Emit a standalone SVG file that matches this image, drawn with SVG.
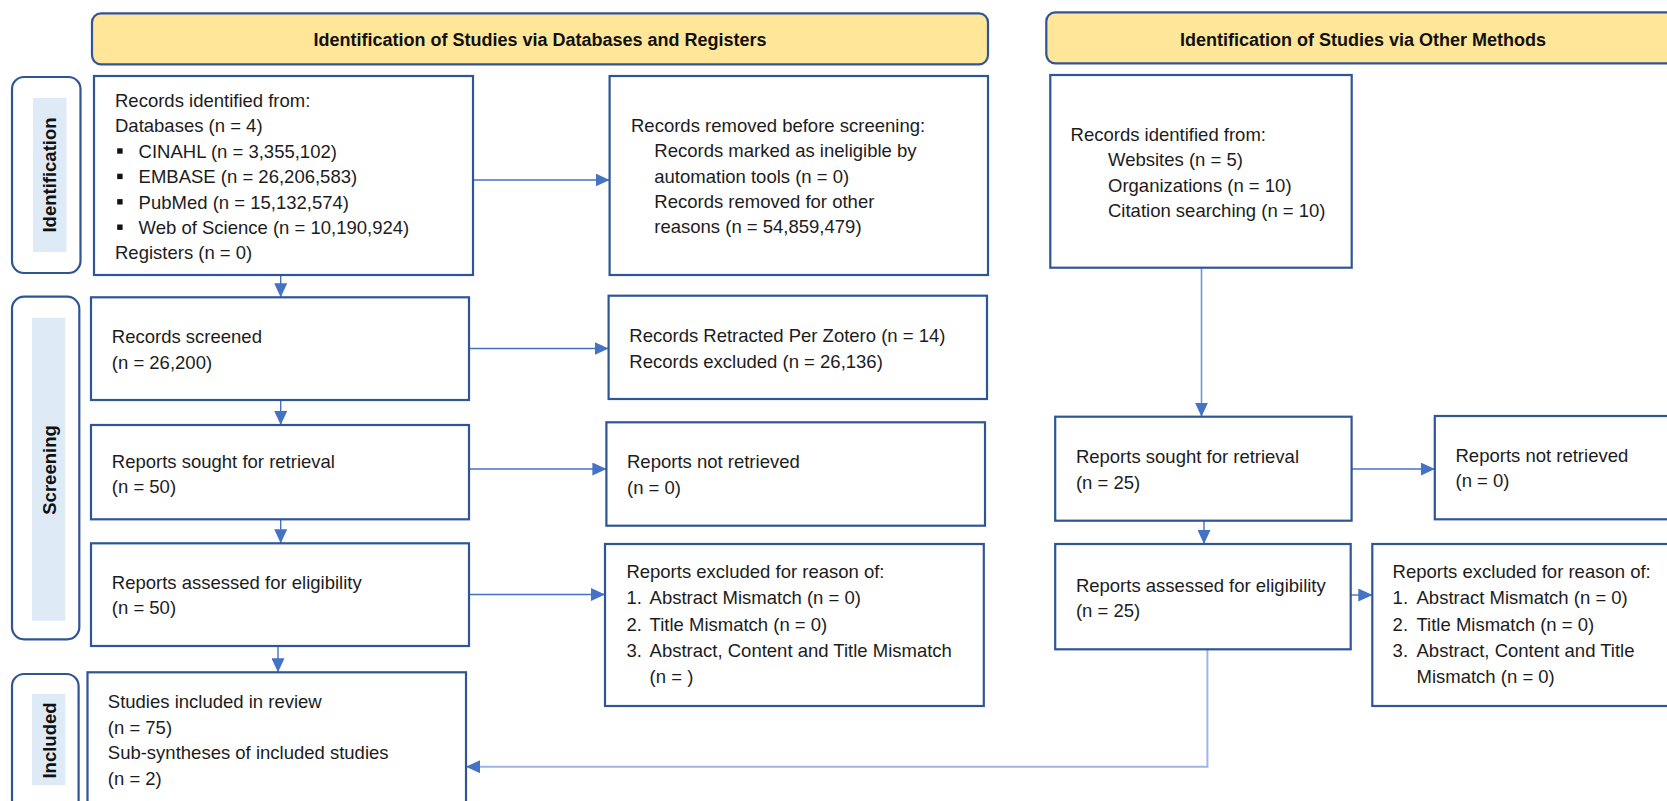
<svg xmlns="http://www.w3.org/2000/svg" width="1667" height="801" viewBox="0 0 1667 801">
<style>
.bx{fill:#fff;stroke:#2F5597;stroke-width:2.2}
.hd{fill:#FFE699;stroke:#2F5597;stroke-width:2.2}
.sd{fill:#fff;stroke:#2F5597;stroke-width:2.2}
.sdi{fill:#DEEBF7;stroke:none}
.t{font-family:"Liberation Sans",Arial,sans-serif;font-size:18.5px;fill:#1c1c1c}
.hb{font-family:"Liberation Sans",Arial,sans-serif;font-size:18px;font-weight:bold;fill:#111}
.sl{font-family:"Liberation Sans",Arial,sans-serif;font-size:18.5px;font-weight:bold;fill:#111}
.c{fill:none;stroke:#4472C4;stroke-width:1.4}
.cl{fill:none;stroke:#9DB6E4;stroke-width:2}
.cm{fill:none;stroke:#6F93D6;stroke-width:1.6}
</style>
<defs>
<marker id="ah" markerUnits="userSpaceOnUse" markerWidth="14" markerHeight="13" refX="14" refY="6.5" orient="auto">
<path d="M0,0 L14,6.5 L0,13 z" fill="#4472C4"/>
</marker>
</defs>

<g id="header-db">
<rect class="hd" x="92" y="13.3" width="896" height="51" rx="9"/>
<text class="hb" x="540" y="46" text-anchor="middle">Identification of Studies via Databases and Registers</text>
</g>
<g id="header-other">
<rect class="hd" x="1046.3" y="12.3" width="640" height="51" rx="9"/>
<text class="hb" x="1363" y="45.5" text-anchor="middle">Identification of Studies via Other Methods</text>
</g>

<g id="label-identification">
<rect class="sd" x="12" y="77" width="68.5" height="196" rx="12"/>
<rect class="sdi" x="33" y="98" width="33.5" height="154"/>
<text class="sl" transform="translate(55.5,175) rotate(-90)" text-anchor="middle">Identification</text>
</g>
<g id="label-screening">
<rect class="sd" x="12" y="296.7" width="67.3" height="342.6" rx="12"/>
<rect class="sdi" x="32" y="317.7" width="33.4" height="303"/>
<text class="sl" transform="translate(55.5,470) rotate(-90)" text-anchor="middle">Screening</text>
</g>
<g id="label-included">
<rect class="sd" x="12" y="674" width="66.6" height="150" rx="12"/>
<rect class="sdi" x="32" y="694" width="33.4" height="91"/>
<text class="sl" transform="translate(55.5,740.5) rotate(-90)" text-anchor="middle">Included</text>
</g>

<g id="connectors">
<line class="c" x1="473" y1="180" x2="609.6" y2="180" marker-end="url(#ah)"/>
<line class="c" x1="280.7" y1="275" x2="280.7" y2="297.3" marker-end="url(#ah)"/>
<line class="c" x1="469" y1="348.5" x2="608.6" y2="348.5" marker-end="url(#ah)"/>
<line class="c" x1="280.7" y1="400" x2="280.7" y2="425" marker-end="url(#ah)"/>
<line class="c" x1="469" y1="469" x2="606.4" y2="469" marker-end="url(#ah)"/>
<line class="c" x1="280.7" y1="519.3" x2="280.7" y2="543.3" marker-end="url(#ah)"/>
<line class="c" x1="469" y1="594.5" x2="605" y2="594.5" marker-end="url(#ah)"/>
<line class="c" x1="278" y1="646" x2="278" y2="672.3" marker-end="url(#ah)"/>
<line class="cm" x1="1201.5" y1="267.7" x2="1201.5" y2="416.7" marker-end="url(#ah)"/>
<line class="c" x1="1351.6" y1="469" x2="1434.8" y2="469" marker-end="url(#ah)"/>
<line class="c" x1="1204" y1="520.7" x2="1204" y2="544" marker-end="url(#ah)"/>
<line class="c" x1="1350.7" y1="595" x2="1372.3" y2="595" marker-end="url(#ah)"/>
<path class="cl" d="M1207.4,649.3 V766.7 H466" marker-end="url(#ah)"/>
</g>

<g id="box-records-identified">
<rect class="bx" x="94" y="76" width="379" height="199"/>
<text class="t" x="115" y="107">Records identified from:</text>
<text class="t" x="115" y="132.4">Databases (n = 4)</text>
<rect x="117.2" y="148.3" width="5.4" height="5.4" fill="#111"/>
<text class="t" x="138.6" y="157.8">CINAHL (n = 3,355,102)</text>
<rect x="117.2" y="173.7" width="5.4" height="5.4" fill="#111"/>
<text class="t" x="138.6" y="183.2">EMBASE (n = 26,206,583)</text>
<rect x="117.2" y="199.1" width="5.4" height="5.4" fill="#111"/>
<text class="t" x="138.6" y="208.6">PubMed (n = 15,132,574)</text>
<rect x="117.2" y="224.5" width="5.4" height="5.4" fill="#111"/>
<text class="t" x="138.6" y="234">Web of Science (n = 10,190,924)</text>
<text class="t" x="115" y="259.4">Registers (n = 0)</text>
</g>

<g id="box-records-removed">
<rect class="bx" x="609.6" y="76" width="378.4" height="199"/>
<text class="t" x="631" y="131.7">Records removed before screening:</text>
<text class="t" x="654.3" y="157.3">Records marked as ineligible by</text>
<text class="t" x="654.3" y="182.5">automation tools (n = 0)</text>
<text class="t" x="654.3" y="207.7">Records removed for other</text>
<text class="t" x="654.3" y="233.1">reasons (n = 54,859,479)</text>
</g>

<g id="box-other-records">
<rect class="bx" x="1050.3" y="75" width="301.4" height="192.7"/>
<text class="t" x="1070.6" y="141.2">Records identified from:</text>
<text class="t" x="1108" y="166.4">Websites (n = 5)</text>
<text class="t" x="1108" y="191.7">Organizations (n = 10)</text>
<text class="t" x="1108" y="216.9">Citation searching (n = 10)</text>
</g>

<g id="box-screened">
<rect class="bx" x="91" y="297.3" width="378" height="102.7"/>
<text class="t" x="111.8" y="343.3">Records screened</text>
<text class="t" x="111.8" y="368.5">(n = 26,200)</text>
</g>

<g id="box-excluded-screen">
<rect class="bx" x="608.6" y="295.7" width="378.4" height="103.3"/>
<text class="t" x="629.3" y="342.3">Records Retracted Per Zotero (n = 14)</text>
<text class="t" x="629.3" y="367.5">Records excluded (n = 26,136)</text>
</g>

<g id="box-sought">
<rect class="bx" x="91" y="425" width="378" height="94.3"/>
<text class="t" x="111.8" y="467.7">Reports sought for retrieval</text>
<text class="t" x="111.8" y="492.7">(n = 50)</text>
</g>

<g id="box-not-retrieved">
<rect class="bx" x="606.4" y="422.3" width="378.6" height="103.4"/>
<text class="t" x="627" y="468.3">Reports not retrieved</text>
<text class="t" x="627" y="493.5">(n = 0)</text>
</g>

<g id="box-assessed">
<rect class="bx" x="91" y="543.3" width="378" height="102.7"/>
<text class="t" x="111.8" y="588.5">Reports assessed for eligibility</text>
<text class="t" x="111.8" y="613.8">(n = 50)</text>
</g>

<g id="box-excluded-reasons">
<rect class="bx" x="605" y="544" width="378.8" height="162"/>
<text class="t" x="626.4" y="577.7">Reports excluded for reason of:</text>
<text class="t" x="626.4" y="604">1.</text>
<text class="t" x="649.6" y="604">Abstract Mismatch (n = 0)</text>
<text class="t" x="626.4" y="630.5">2.</text>
<text class="t" x="649.6" y="630.5">Title Mismatch (n = 0)</text>
<text class="t" x="626.4" y="657">3.</text>
<text class="t" x="649.6" y="657">Abstract, Content and Title Mismatch</text>
<text class="t" x="649.6" y="683.3">(n = )</text>
</g>

<g id="box-included">
<rect class="bx" x="87.5" y="672.3" width="378.5" height="150"/>
<text class="t" x="107.8" y="708.3">Studies included in review</text>
<text class="t" x="107.8" y="733.8">(n = 75)</text>
<text class="t" x="107.8" y="759.3">Sub-syntheses of included studies</text>
<text class="t" x="107.8" y="784.8">(n = 2)</text>
</g>

<g id="box-other-sought">
<rect class="bx" x="1055.2" y="416.7" width="296.4" height="104"/>
<text class="t" x="1075.9" y="463.3">Reports sought for retrieval</text>
<text class="t" x="1075.9" y="488.5">(n = 25)</text>
</g>

<g id="box-other-not-retrieved">
<rect class="bx" x="1434.8" y="416" width="260" height="103.3"/>
<text class="t" x="1455.5" y="461.7">Reports not retrieved</text>
<text class="t" x="1455.5" y="486.9">(n = 0)</text>
</g>

<g id="box-other-assessed">
<rect class="bx" x="1055.2" y="544" width="295.5" height="105.3"/>
<text class="t" x="1075.9" y="591.7">Reports assessed for eligibility</text>
<text class="t" x="1075.9" y="616.9">(n = 25)</text>
</g>

<g id="box-other-excluded">
<rect class="bx" x="1372.3" y="544" width="320" height="162"/>
<text class="t" x="1392.6" y="577.7">Reports excluded for reason of:</text>
<text class="t" x="1392.6" y="604">1.</text>
<text class="t" x="1416.5" y="604">Abstract Mismatch (n = 0)</text>
<text class="t" x="1392.6" y="630.5">2.</text>
<text class="t" x="1416.5" y="630.5">Title Mismatch (n = 0)</text>
<text class="t" x="1392.6" y="657">3.</text>
<text class="t" x="1416.5" y="657">Abstract, Content and Title</text>
<text class="t" x="1416.5" y="683.3">Mismatch (n = 0)</text>
</g>
</svg>
